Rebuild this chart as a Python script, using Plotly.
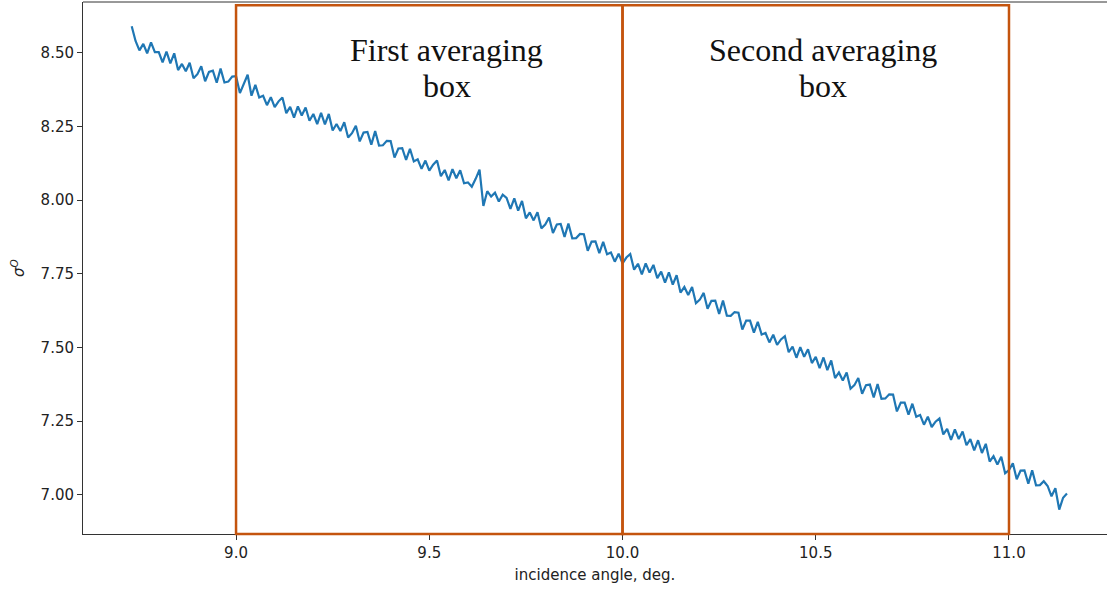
import numpy as np
import plotly.graph_objects as go

# Backscatter sigma0 sampled every 0.01 deg of incidence angle, starting at 8.73 deg
start_angle = 8.73
angle_step = 0.01
sigma0 = [
    # 8.73 - 8.79
    8.590, 8.540, 8.508, 8.530, 8.498, 8.535, 8.502,
    # 8.80 - 8.89
    8.502, 8.467, 8.504, 8.464, 8.498, 8.441, 8.462, 8.437, 8.466, 8.413,
    # 8.90 - 8.99
    8.427, 8.454, 8.403, 8.435, 8.439, 8.398, 8.446, 8.399, 8.402, 8.419,
    # 9.00 - 9.09
    8.420, 8.363, 8.394, 8.425, 8.354, 8.391, 8.348, 8.354, 8.322, 8.349,
    # 9.10 - 9.19
    8.315, 8.335, 8.348, 8.295, 8.316, 8.280, 8.318, 8.287, 8.314, 8.269,
    # 9.20 - 9.29
    8.292, 8.258, 8.296, 8.257, 8.292, 8.236, 8.258, 8.234, 8.264, 8.212,
    # 9.30 - 9.39
    8.227, 8.252, 8.199, 8.229, 8.231, 8.188, 8.234, 8.185, 8.186, 8.201,
    # 9.40 - 9.49
    8.200, 8.144, 8.175, 8.176, 8.136, 8.174, 8.131, 8.138, 8.106, 8.134,
    # 9.50 - 9.59
    8.100, 8.120, 8.134, 8.081, 8.102, 8.067, 8.105, 8.074, 8.101, 8.057,
    # 9.60 - 9.69
    8.060, 8.045, 8.072, 8.103, 7.980, 8.030, 8.012, 8.025, 7.995, 8.018,
    # 9.70 - 9.79
    8.007, 7.970, 8.006, 7.964, 7.997, 7.938, 7.958, 7.931, 7.959, 7.904,
    # 9.80 - 9.89
    7.917, 7.941, 7.888, 7.917, 7.919, 7.875, 7.920, 7.870, 7.871, 7.885,
    # 9.90 - 9.99
    7.884, 7.828, 7.859, 7.860, 7.820, 7.858, 7.816, 7.822, 7.791, 7.818,
    # 10.00 - 10.09
    7.785, 7.805, 7.817, 7.764, 7.784, 7.748, 7.785, 7.754, 7.780, 7.735,
    # 10.10 - 10.19
    7.757, 7.720, 7.755, 7.713, 7.745, 7.686, 7.705, 7.678, 7.705, 7.650,
    # 10.20 - 10.29
    7.662, 7.685, 7.631, 7.658, 7.659, 7.614, 7.659, 7.608, 7.607, 7.620,
    # 10.30 - 10.39
    7.618, 7.561, 7.591, 7.591, 7.550, 7.587, 7.544, 7.549, 7.517, 7.543,
    # 10.40 - 10.49
    7.509, 7.527, 7.538, 7.484, 7.503, 7.465, 7.501, 7.468, 7.494, 7.447,
    # 10.50 - 10.59
    7.468, 7.430, 7.466, 7.423, 7.456, 7.396, 7.415, 7.388, 7.415, 7.360,
    # 10.60 - 10.69
    7.372, 7.396, 7.343, 7.372, 7.374, 7.330, 7.376, 7.326, 7.327, 7.341,
    # 10.70 - 10.79
    7.340, 7.283, 7.313, 7.313, 7.272, 7.309, 7.265, 7.271, 7.238, 7.265,
    # 10.80 - 10.89
    7.230, 7.248, 7.259, 7.205, 7.224, 7.186, 7.222, 7.189, 7.215, 7.168,
    # 10.90 - 10.99
    7.189, 7.151, 7.185, 7.142, 7.173, 7.113, 7.131, 7.103, 7.129, 7.073,
    # 11.00 - 11.09
    7.084, 7.107, 7.053, 7.082, 7.083, 7.038, 7.083, 7.032, 7.033, 7.046,
    # 11.10 - 11.15
    7.030, 6.995, 7.022, 6.950, 6.990, 7.004,
]
angle = np.round(start_angle + angle_step * np.arange(len(sigma0)), 2)

# Averaging windows (deg) and their two-line captions
box_edges = [(9.0, 10.0), (10.0, 11.0)]
box_captions = [("First averaging", "box"), ("Second averaging", "box")]
box_caption_x = [9.545, 10.52]
caption_line_y = [0.910, 0.842]

x_ticks = [9.0, 9.5, 10.0, 10.5, 11.0]
y_ticks = [7.00, 7.25, 7.50, 7.75, 8.00, 8.25, 8.50]

box_color = "#C4540E"
axis_color = "#333333"

fig = go.Figure()
fig.add_trace(go.Scatter(
    x=angle, y=sigma0, mode="lines",
    line=dict(color="#1f77b4", width=2.2),
    showlegend=False, hoverinfo="skip",
))

for (x0, x1) in box_edges:
    fig.add_shape(type="rect", xref="x", yref="paper",
                  x0=x0, x1=x1, y0=0.0, y1=0.994,
                  line=dict(color=box_color, width=2.5),
                  fillcolor="rgba(0,0,0,0)", layer="above")

for cx, lines in zip(box_caption_x, box_captions):
    for ly, txt in zip(caption_line_y, lines):
        fig.add_annotation(x=cx, y=ly, xref="x", yref="paper",
                           text=txt, showarrow=False,
                           font=dict(family="Liberation Serif", size=32, color="#111111"),
                           xanchor="center", yanchor="middle")

# top spine
fig.add_shape(type="line", xref="paper", yref="paper",
              x0=0, x1=1, y0=1, y1=1,
              line=dict(color=axis_color, width=1))

fig.update_layout(
    width=1107, height=591,
    margin=dict(l=83, r=0, t=2, b=57),
    paper_bgcolor="white", plot_bgcolor="white",
    font=dict(family="DejaVu Sans", size=15, color="#222222"),
)
fig.update_xaxes(
    range=[8.604, 11.2536], tickvals=x_ticks, tickformat=".1f",
    showgrid=False, zeroline=False,
    showline=True, linecolor=axis_color, linewidth=1,
    ticks="outside", ticklen=5, tickcolor=axis_color,
    title=dict(text="incidence angle, deg.", standoff=8,
               font=dict(family="DejaVu Sans", size=15)),
)
fig.update_yaxes(
    range=[6.867, 8.672], tickvals=y_ticks, tickformat=".2f",
    showgrid=False, zeroline=False,
    showline=True, linecolor=axis_color, linewidth=1,
    ticks="outside", ticklen=5, tickcolor=axis_color,
    title=dict(text="<i>σ</i><sup><i>O</i></sup>", standoff=12,
               font=dict(family="DejaVu Sans", size=15)),
)

fig.write_html("out.html")
